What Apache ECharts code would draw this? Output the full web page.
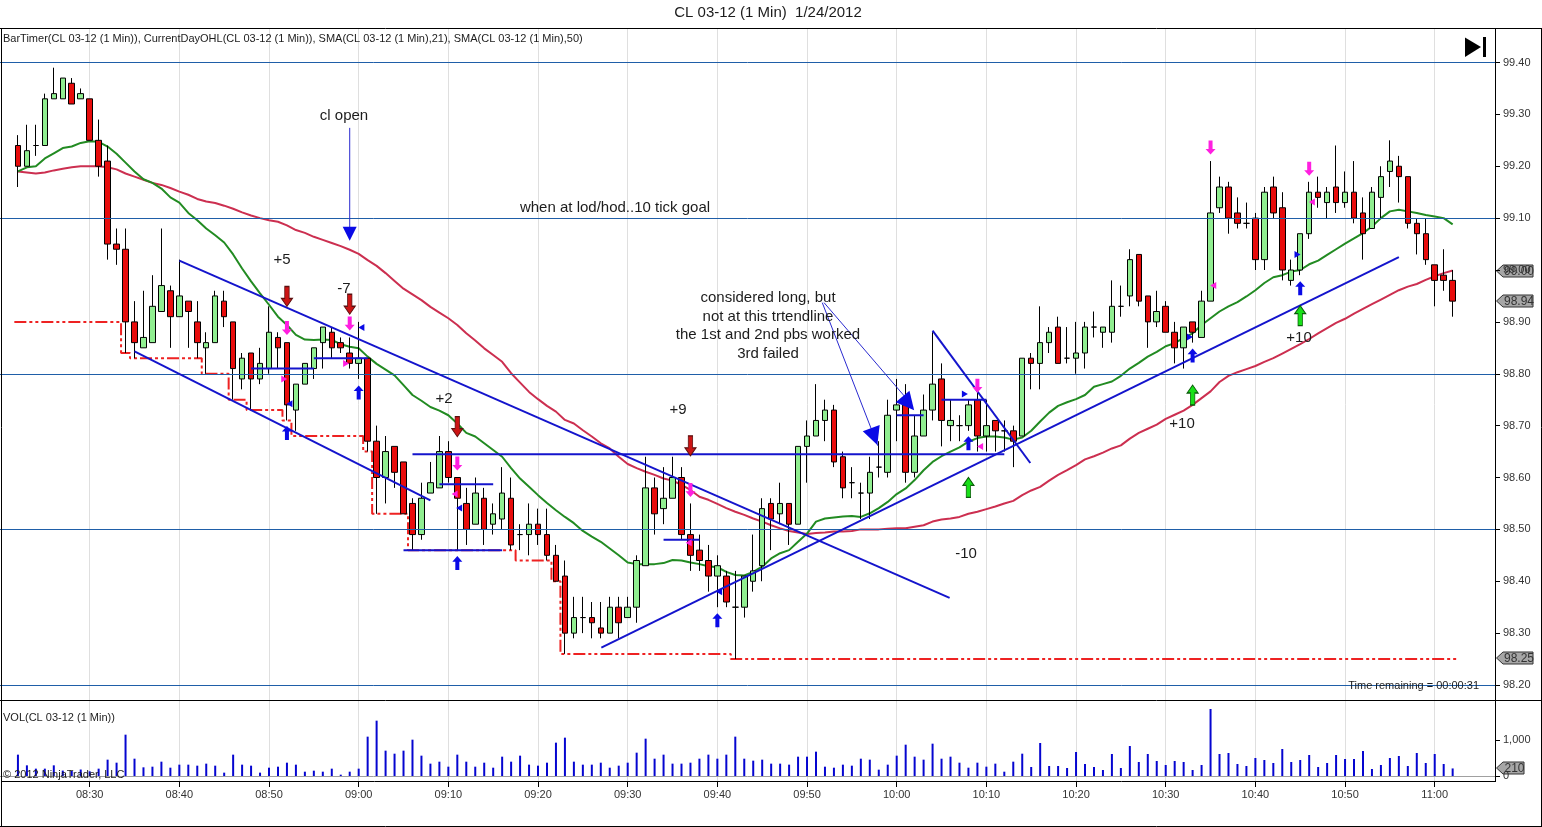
<!DOCTYPE html>
<html><head><meta charset="utf-8">
<style>html,body{margin:0;padding:0;background:#fff}#c{width:1542px;height:827px}</style>
<script src="https://cdn.jsdelivr.net/npm/echarts@6/dist/echarts.min.js"></script>
</head><body><div id="c"></div>
<script>
// Bars: one per minute, 08:22 (minute 502) to 11:02 (minute 662)
const firstMinute = 502;
const opens = [99.24,99.20,99.24,99.24,99.33,99.33,99.36,99.33,99.33,99.25,99.21,99.05,99.04,98.90,98.85,98.86,98.92,98.96,98.91,98.94,98.90,98.85,98.86,98.94,98.90,98.79,98.84,98.79,98.81,98.87,98.86,98.73,
98.78,98.81,98.86,98.88,98.86,98.84,98.82,98.83,98.67,98.60,98.66,98.63,98.55,98.49,98.57,98.58,98.65,98.60,98.55,98.51,98.56,98.51,98.52,98.56,98.49,98.49,98.51,98.49,98.45,98.41,98.30,98.33,
98.33,98.31,98.30,98.35,98.33,98.35,98.43,98.58,98.54,98.56,98.60,98.49,98.46,98.44,98.41,98.41,98.35,98.35,98.40,98.43,98.55,98.53,98.55,98.51,98.66,98.68,98.71,98.73,98.64,98.59,98.57,98.57,
98.62,98.61,98.73,98.74,98.61,98.68,98.73,98.79,98.70,98.70,98.70,98.75,98.68,98.71,98.69,98.69,98.68,98.83,98.82,98.86,98.89,98.83,98.83,98.84,98.89,98.88,98.88,98.93,98.95,99.03,98.95,98.90,
98.93,98.88,98.85,98.90,98.87,98.94,99.12,99.16,99.11,99.09,99.10,99.02,99.16,99.12,98.98,99.00,99.07,99.15,99.13,99.16,99.13,99.15,99.11,99.08,99.14,99.19,99.20,99.18,99.09,99.07,99.01,98.99,98.98];
const closes = [99.20,99.23,99.24,99.33,99.34,99.37,99.32,99.34,99.25,99.20,99.05,99.04,98.90,98.86,98.87,98.93,98.97,98.91,98.95,98.92,98.86,98.86,98.95,98.91,98.81,98.83,98.79,98.82,98.88,98.85,98.74,98.78,
98.82,98.85,98.89,98.85,98.85,98.82,98.83,98.67,98.60,98.65,98.61,98.53,98.49,98.56,98.59,98.65,98.60,98.56,98.50,98.57,98.50,98.53,98.57,98.47,98.49,98.51,98.49,98.45,98.40,98.30,98.33,98.33,
98.32,98.30,98.35,98.32,98.35,98.44,98.58,98.53,98.56,98.60,98.49,98.45,98.44,98.41,98.43,98.36,98.35,98.41,98.42,98.54,98.52,98.55,98.51,98.66,98.68,98.71,98.73,98.63,98.58,98.59,98.57,98.61,
98.62,98.72,98.74,98.61,98.68,98.73,98.78,98.71,98.71,98.70,98.74,98.68,98.70,98.69,98.69,98.67,98.83,98.82,98.86,98.88,98.82,98.83,98.84,98.89,98.89,98.89,98.93,98.93,99.02,98.94,98.90,98.92,
98.88,98.85,98.89,98.88,98.94,99.11,99.16,99.10,99.09,99.09,99.02,99.15,99.11,99.00,99.00,99.07,99.15,99.14,99.15,99.13,99.15,99.10,99.07,99.15,99.18,99.21,99.18,99.09,99.07,99.02,98.98,98.98,98.94];
const lows = [99.16,99.20,99.22,99.24,99.33,99.33,99.32,99.33,99.25,99.18,99.02,99.01,98.84,98.83,98.85,98.86,98.92,98.85,98.91,98.85,98.83,98.80,98.86,98.89,98.75,98.77,98.73,98.78,98.80,98.81,98.71,98.69,
98.78,98.79,98.81,98.83,98.84,98.81,98.79,98.65,98.53,98.55,98.58,98.53,98.46,98.48,98.57,98.58,98.59,98.46,98.47,98.51,98.47,98.49,98.50,98.46,98.46,98.45,98.47,98.44,98.40,98.26,98.29,98.30,
98.29,98.29,98.30,98.29,98.33,98.32,98.43,98.49,98.51,98.56,98.48,98.42,98.42,98.38,98.35,98.35,98.25,98.33,98.38,98.40,98.46,98.51,98.47,98.51,98.59,98.68,98.67,98.62,98.56,98.56,98.52,98.52,
98.60,98.60,98.67,98.59,98.60,98.68,98.71,98.66,98.67,98.67,98.69,98.65,98.65,98.65,98.65,98.62,98.68,98.77,98.77,98.84,98.82,98.82,98.80,98.81,98.87,98.85,98.86,98.91,98.93,98.93,98.85,98.89,
98.88,98.82,98.81,98.86,98.87,98.94,99.11,99.07,99.08,99.08,99.00,99.00,99.10,98.98,98.97,98.99,99.06,99.12,99.10,99.11,99.12,99.09,99.02,99.08,99.10,99.16,99.13,99.08,99.03,99.01,98.93,98.96,98.91];
const highs = [99.26,99.28,99.28,99.34,99.39,99.37,99.37,99.35,99.33,99.29,99.24,99.08,99.08,98.94,98.96,98.99,99.08,98.97,99.02,98.94,98.94,98.88,98.96,98.96,98.90,98.84,98.84,98.85,98.93,98.88,98.86,98.78,
98.82,98.85,98.89,98.89,98.87,98.87,98.90,98.83,98.70,98.68,98.66,98.63,98.56,98.59,98.63,98.68,98.67,98.60,98.58,98.60,98.58,98.55,98.62,98.60,98.51,98.55,98.54,98.54,98.47,98.44,98.37,98.37,
98.36,98.36,98.37,98.37,98.37,98.45,98.64,98.60,98.62,98.64,98.62,98.55,98.49,98.47,98.45,98.42,98.42,98.41,98.49,98.56,98.56,98.59,98.55,98.66,98.71,98.78,98.75,98.74,98.65,98.62,98.59,98.64,
98.67,98.75,98.79,98.78,98.72,98.76,98.88,98.82,98.75,98.72,98.75,98.77,98.75,98.71,98.71,98.70,98.83,98.84,98.93,98.89,98.91,98.89,98.90,98.90,98.92,98.89,98.98,98.97,99.04,99.03,98.95,98.96,
98.94,98.90,98.89,98.90,98.96,99.21,99.18,99.17,99.14,99.13,99.11,99.16,99.18,99.15,99.02,99.07,99.17,99.18,99.16,99.24,99.19,99.21,99.14,99.16,99.20,99.25,99.22,99.18,99.10,99.10,99.01,99.04,99.00];
const volumes = [593,296,204,204,296,150,140,180,130,204,454,370,1148,481,241,259,398,231,315,315,287,343,287,93,593,315,287,93,231,259,370,315,120,148,120,204,37,120,204,1093,1537,704,620,704,1009,565,343,398,259,593,398,259,370,231,537,398,565,315,287,370,926,1065,398,315,315,370,231,287,370,648,1037,481,593,343,343,370,481,593,481,593,1093,481,426,454,343,343,315,537,537,676,259,231,315,287,481,454,176,315,565,870,537,454,898,481,537,370,231,370,259,343,120,398,620,250,917,278,278,222,667,333,250,167,611,222,833,389,611,417,306,417,389,167,306,1861,611,639,333,278,500,444,361,750,389,444,583,250,361,583,472,472,694,194,306,500,556,278,639,361,611,333,210];
const sma21 = [99.19,99.198,99.20,99.215,99.225,99.235,99.238,99.245,99.248,99.247,99.238,99.224,99.207,99.19,99.175,99.168,99.157,99.14,99.13,99.11,99.096,99.08,99.067,99.053,99.03,99.003,98.978,98.955,98.933,98.91,98.894,98.875,
98.866,98.865,98.866,98.865,98.857,98.852,98.849,98.833,98.819,98.808,98.797,98.778,98.759,98.748,98.736,98.729,98.72,98.704,98.686,98.679,98.666,98.653,98.64,98.618,98.598,98.582,98.566,98.551,98.537,98.524,98.512,98.497,
98.486,98.476,98.463,98.45,98.436,98.433,98.433,98.433,98.435,98.441,98.44,98.436,98.433,98.429,98.427,98.418,98.412,98.411,98.418,98.428,98.444,98.454,98.46,98.476,98.492,98.515,98.521,98.523,98.525,98.526,98.524,98.531,
98.541,98.553,98.568,98.579,98.595,98.614,98.63,98.641,98.65,98.658,98.669,98.676,98.679,98.679,98.677,98.673,98.677,98.69,98.708,98.725,98.738,98.745,98.751,98.759,98.775,98.78,98.785,98.796,98.81,98.821,98.833,98.842,
98.853,98.859,98.869,98.878,98.894,98.907,98.92,98.93,98.938,98.949,98.961,98.975,98.986,98.99,98.997,99.0,99.011,99.018,99.029,99.04,99.051,99.061,99.071,99.084,99.10,99.113,99.116,99.113,99.11,99.106,99.103,99.10,99.088];
const sma50 = [99.19,99.188,99.186,99.188,99.192,99.195,99.198,99.20,99.20,99.20,99.198,99.194,99.186,99.18,99.174,99.168,99.164,99.158,99.151,99.145,99.137,99.132,99.129,99.124,99.118,99.111,99.105,99.10,99.096,99.093,99.086,99.077,
99.0715,99.064,99.058,99.052,99.046,99.039,99.031,99.019,99.008,98.994,98.979,98.964,98.953,98.942,98.929,98.918,98.907,98.894,98.878,98.864,98.849,98.836,98.823,98.801,98.783,98.765,98.751,98.738,98.727,98.711,98.704,98.691,
98.679,98.666,98.656,98.64,98.626,98.618,98.611,98.605,98.598,98.594,98.586,98.576,98.563,98.557,98.549,98.541,98.534,98.528,98.521,98.515,98.508,98.502,98.497,98.494,98.491,98.493,98.494,98.496,98.496,98.497,98.50,98.50,
98.50,98.501,98.502,98.502,98.505,98.508,98.515,98.519,98.521,98.524,98.53,98.534,98.539,98.544,98.55,98.555,98.566,98.575,98.582,98.594,98.605,98.614,98.624,98.635,98.641,98.648,98.656,98.662,98.675,98.686,98.694,98.702,
98.713,98.721,98.729,98.74,98.753,98.766,98.784,98.796,98.803,98.809,98.815,98.823,98.83,98.839,98.848,98.857,98.867,98.878,98.888,98.898,98.906,98.916,98.925,98.934,98.943,98.952,98.961,98.968,98.973,98.981,98.988,98.994,98.999];
// Current-day low, changes at these minutes
const lowStepMinutes = [501.6,513.5,514.5,522.5,525.5,527.5,531.5,532.5,540.5,541.5,545.5,557.5,561.5,562.5,581.5,662.6];
const lowStepPrices  = [98.90,98.84,98.83,98.80,98.75,98.73,98.71,98.68,98.65,98.53,98.46,98.44,98.40,98.26,98.25,98.25];
const priceLevels = [99.4,99.1,98.8,98.5,98.2];
const priceTicks = [98.2,98.3,98.4,98.5,98.6,98.7,98.8,98.9,99.0,99.1,99.2,99.3,99.4];
const timeTicks = [510,520,530,540,550,560,570,580,590,600,610,620,630,640,650,660];
const timeLabels = ['08:30','08:40','08:50','09:00','09:10','09:20','09:30','09:40','09:50','10:00','10:10','10:20','10:30','10:40','10:50','11:00'];
// Hand-drawn chart lines: [minute, price, minute, price]
const heavyLines = [
 [520,99.018,605.9,98.368],[515,98.843,548,98.556],[546,98.645,612,98.645],[567.06,98.272,656,99.025],[604,98.883,614.9,98.628],
 [528,98.81,535,98.81],[535,98.83,541,98.83],[549,98.587,555,98.587],[545,98.46,556,98.46],[574,98.48,578,98.48],[600,98.72,603,98.72],[605,98.75,610,98.75]];
const thinLines = [[539,99.274,539,99.07],[591.7,98.937,597.9,98.661],[591.9,98.937,601.2,98.75]];
const bigHeads = [[539,99.07,180],[597.5,98.679,200],[601.3,98.743,220]];
const redDown = [[532,98.949],[539,98.934],[551,98.698],[577,98.661]];
const magentaDown = [[532,98.888],[539,98.897],[551,98.627],[577,98.576],[609,98.777],[635,99.236],[646,99.195]];
const blueUp = [[532,98.686],[540,98.764],[551,98.435],[580,98.325],[608,98.666],[633,98.835],[645,98.965]];
const greenUp = [[608,98.581],[633,98.759],[645,98.912]];
const blueLeft = [[532.28,98.742],[540.3,98.889],[551.2,98.541],[580.2,98.38]];
const blueRight = [[607.6,98.761],[632.7,98.871],[644.7,99.03]];
const magentaLeft = [[635.3,98.97],[646.3,99.131],[609.3,98.66],[576.8,98.474],[550.7,98.568]];
const magentaRight = [[531.7,98.79],[538.6,98.82]];

const FONT = '"Liberation Sans", Arial, sans-serif';
const minutes = opens.map((_, i) => firstMinute + i);
const candleData = opens.map((o, i) => [minutes[i], o, closes[i], lows[i], highs[i]]);
const pair = arr => arr.map((v, i) => [minutes[i], v]);
const DOWN = 'path://M3,0H7V12H10L5,20L0,12H3Z';
const UP = 'path://M3,20H7V8H10L5,0L0,8H3Z';
const XMIN = 500, XMAX = 500 + 1500.5 / 9;
const hiddenX = gi => ({type:'value',gridIndex:gi,min:XMIN,max:XMAX,interval:10,show:false,splitLine:{show:false}});

function marker(data, symbol, size, color, border, rotate) {
  return {type:'scatter',xAxisIndex:1,yAxisIndex:1,data,symbol,symbolSize:size,symbolRotate:rotate||0,z:8,silent:true,
    itemStyle:{color,opacity:1,borderColor:border||color,borderWidth:border?1:0}};
}
const t = (x,y,text,size,align) => ({type:'text',x,y,silent:true,z:50,style:{text,font:(size||15)+'px '+FONT,fill:'#1c1c1c',align:align||'center',verticalAlign:'middle'}});
const ln = (x1,y1,x2,y2) => ({type:'line',silent:true,z:40,shape:{x1,y1,x2,y2},style:{stroke:'#000',lineWidth:1}});
const tag = (y,w,text) => ({type:'group',silent:true,z:45,children:[
  {type:'polygon',shape:{points:[[1496.5,y],[1503,y-6],[1497+w,y-6],[1497+w,y+6],[1503,y+6]]},style:{fill:'#a6a6a6',stroke:'#333',lineWidth:1}},
  {type:'text',x:1500+w/2+1,y:y+.5,style:{text,font:'12px '+FONT,fill:'#333',align:'center',verticalAlign:'middle'}}]});

const option = {
  animation:false,
  backgroundColor:'#fff',
  textStyle:{fontFamily:FONT},
  grid:[
    {left:-5.5,width:1500.5,top:28,height:753},
    {left:-5.5,width:1500.5,top:62.5,height:622.5},
    {left:-5.5,width:1500.5,top:700,height:76}
  ],
  xAxis:[
    {type:'value',gridIndex:0,min:XMIN,max:XMAX,interval:10,
     axisLine:{show:false},
     axisTick:{show:true,length:6,lineStyle:{color:'#000'},customValues:timeTicks},
     axisLabel:{show:true,margin:8,fontSize:11,color:'#333',customValues:timeTicks,fontFamily:FONT,
       formatter:v=>timeLabels[timeTicks.indexOf(v)]||''},
     splitLine:{show:true,lineStyle:{color:'#dfdfdf',width:1}}},
    hiddenX(1),
    Object.assign(hiddenX(2),{show:true,axisLabel:{show:false},axisTick:{show:false},axisLine:{show:true,onZero:false,lineStyle:{color:'#a0a0a0',width:1}}})
  ],
  yAxis:[
    {type:'value',gridIndex:0,min:0,max:1,show:false,splitLine:{show:false}},
    {type:'value',gridIndex:1,position:'right',min:98.2,max:99.4,interval:0.1,
     axisLine:{show:false},axisTick:{show:true,length:5,lineStyle:{color:'#000'}},
     axisLabel:{show:true,margin:8,fontSize:11,color:'#333',fontFamily:FONT,formatter:v=>v.toFixed(2)},
     splitLine:{show:false}},
    {type:'value',gridIndex:2,position:'right',min:0,max:2111,
     axisLine:{show:false},axisTick:{show:true,length:5,lineStyle:{color:'#000'},customValues:[0,1000]},
     axisLabel:{show:true,margin:8,fontSize:11,color:'#333',fontFamily:FONT,customValues:[0,1000]},
     splitLine:{show:false}}
  ],
  series:[
    {type:'line',xAxisIndex:1,yAxisIndex:1,data:[],z:2,silent:true,
     markLine:{silent:true,symbol:'none',animation:false,label:{show:false},
       lineStyle:{color:'#1f5ea8',width:1,type:'solid'},data:priceLevels.map(v=>({yAxis:v}))}},
    {type:'line',xAxisIndex:1,yAxisIndex:1,step:'end',symbol:'none',z:3,silent:true,clip:false,
     data:lowStepMinutes.map((m,i)=>[m,lowStepPrices[i]]),
     lineStyle:{color:'#ee2222',width:2,type:[12,3,3,3,3,3]}},
    {type:'line',xAxisIndex:1,yAxisIndex:1,symbol:'none',z:3,silent:true,data:pair(sma50),lineStyle:{color:'#cc2f50',width:2}},
    {type:'line',xAxisIndex:1,yAxisIndex:1,symbol:'none',z:3,silent:true,data:pair(sma21),lineStyle:{color:'#228b22',width:2}},
    {type:'candlestick',xAxisIndex:1,yAxisIndex:1,z:4,silent:true,barWidth:6,clip:false,data:candleData,
     itemStyle:{color:'#90ee90',color0:'#e80c0c',borderColor:'#000',borderColor0:'#000',borderColorDoji:'#000',borderWidth:1}},
    ...heavyLines.map(l=>({type:'line',xAxisIndex:1,yAxisIndex:1,symbol:'none',z:6,silent:true,
      data:[[l[0],l[1]],[l[2],l[3]]],lineStyle:{color:'#1414cc',width:2}})),
    ...thinLines.map(l=>({type:'line',xAxisIndex:1,yAxisIndex:1,symbol:'none',z:6,silent:true,
      data:[[l[0],l[1]],[l[2],l[3]]],lineStyle:{color:'#2a2ad0',width:1}})),
    ...bigHeads.map(h=>marker([[h[0],h[1]]],'triangle',h[2]===180?[14,14]:[18,18],'#0a0ae6',null,h[2])),
    marker(redDown,DOWN,[11,20],'#cc1414','#5a1010'),
    marker(magentaDown,DOWN,[10,14],'#ff1fe0'),
    marker(blueUp,UP,[10,14],'#0a0ae6'),
    marker(greenUp,UP,[11,20],'#18e018','#0a5a0a'),
    marker(blueLeft,'triangle',[7,6],'#0a0ae6',null,90),
    marker(blueRight,'triangle',[7,6],'#0a0ae6',null,-90),
    marker(magentaLeft,'triangle',[7,6],'#ff1fe0',null,90),
    marker(magentaRight,'triangle',[7,6],'#ff1fe0',null,-90),
    {type:'bar',xAxisIndex:2,yAxisIndex:2,barWidth:2,z:4,silent:true,data:pair(volumes),itemStyle:{color:'#0505d0'}}
  ],
  graphic:[
    ln(0,28.5,1542,28.5), ln(0,700.5,1542,700.5), ln(1,781.5,1495,781.5), ln(0,826.5,1542,826.5),
    ln(1.5,28,1.5,827), ln(1541.5,28,1541.5,827), ln(1495.5,28,1495.5,782),
    t(768,13,'CL 03-12 (1 Min)  1/24/2012',15),
    t(3,39,'BarTimer(CL 03-12 (1 Min)), CurrentDayOHL(CL 03-12 (1 Min)), SMA(CL 03-12 (1 Min),21), SMA(CL 03-12 (1 Min),50)',11,'left'),
    t(3,718,'VOL(CL 03-12 (1 Min))',11,'left'),
    t(3,775,'\u00a9 2012 NinjaTrader, LLC',11,'left'),
    t(1479,685.5,'Time remaining = 00:00:31',11,'right'),
    t(344,116,'cl open'), t(615,208,'when at lod/hod..10 tick goal'),
    t(282,260,'+5'), t(344,289,'-7'), t(444,399,'+2'), t(678,410,'+9'), t(966,554,'-10'), t(1182,424,'+10'), t(1299,338,'+10'),
    t(768,298,'considered long, but'), t(768,317,'not at this trtendline'), t(768,335,'the 1st and 2nd pbs worked'), t(768,354,'3rd failed'),
    {type:'polygon',silent:true,z:45,shape:{points:[[1465,37.5],[1481,47],[1465,57]]},style:{fill:'#000'}},
    {type:'rect',silent:true,z:45,shape:{x:1483,y:37,width:3,height:20},style:{fill:'#000'}},
    tag(271,36,'99.00'), tag(301,36,'98.94'), tag(658,36,'98.25'), tag(768,27,'210')
  ]
};
const chart = echarts.init(document.getElementById('c'),null,{renderer:'canvas',width:1542,height:827});
chart.setOption(option);
</script></body></html>
